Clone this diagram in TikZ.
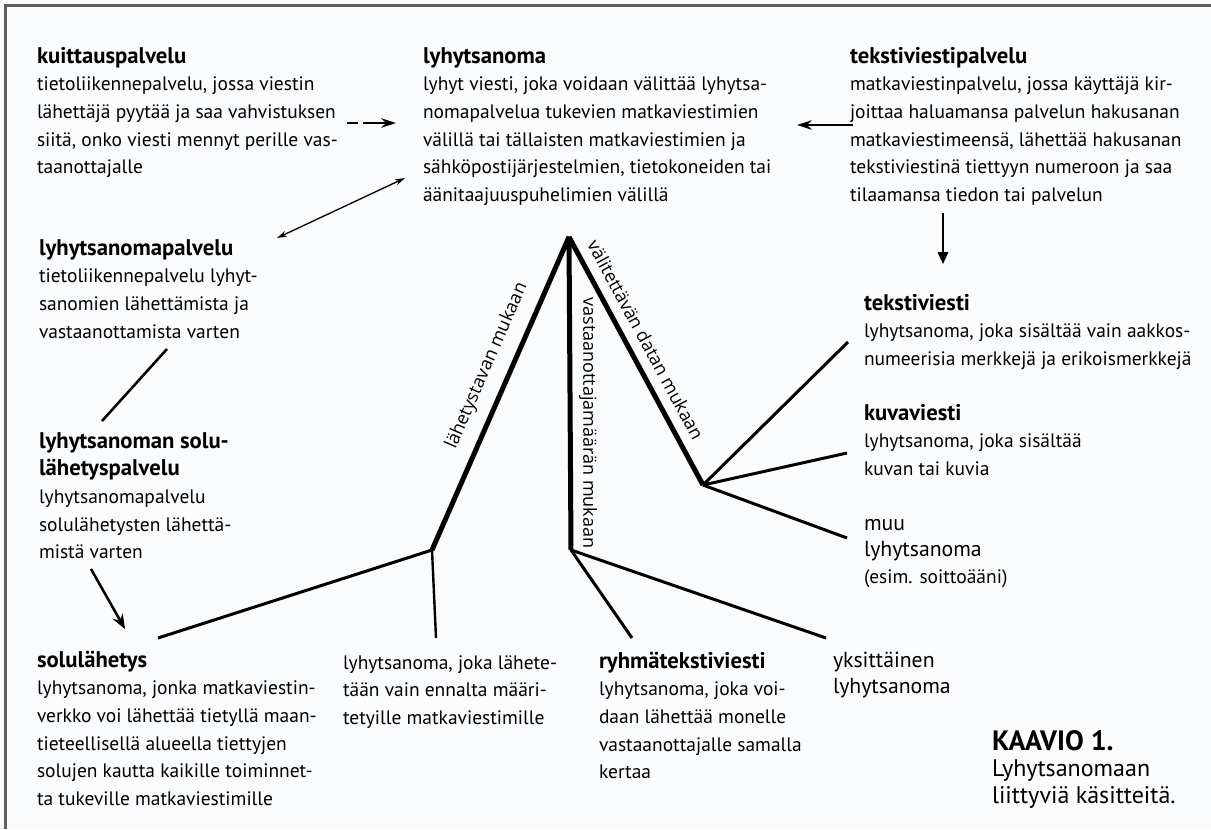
\documentclass[tikz,border=0pt]{standalone}
\usepackage{fontspec}
\setmainfont{PT Sans}
\newfontfamily\lblfont{Open Sans}
\usetikzlibrary{arrows.meta}
\definecolor{bgc}{RGB}{250,251,253}
\definecolor{framec}{RGB}{95,95,95}
\newcommand\Blk[2][20.8pt]{\vtop{\baselineskip=#1\relax\lineskip=0pt\lineskiplimit=-100pt\halign{##\hfil\cr#2\crcr}}}
\newcommand\Ttl[1]{{\fontsize{17}{20}\selectfont\bfseries #1}}
\begin{document}
\begin{tikzpicture}[x=0.75pt,y=-0.75pt,
  txt/.style={anchor=base west,inner sep=0pt,outer sep=0pt,font=\fontsize{14.6}{20.8}\selectfont},
  bigtxt/.style={txt,font=\fontsize{16.3}{20}\selectfont},
  captxt/.style={txt,font=\fontsize{18}{20}\selectfont},
  brlabel/.style={inner sep=0pt,font=\lblfont\fontsize{13.5}{16}\selectfont},
  branch/.style={line width=3.75pt,line join=bevel},
  leaf/.style={line width=2.25pt},
  thinleaf/.style={line width=1.8pt},
  conn/.style={line width=1.9pt},
  tip/.style={-{Stealth[length=11pt,width=7pt]}}
]
\fill[bgc] (0,0) rectangle (1211,829);
\useasboundingbox (0,0) rectangle (1211,829);
\draw[framec,line width=2.25pt] (5.5,829) -- (5.5,5.5) -- (1211,5.5);

% text blocks
\node[txt] (kuit) at (37,63) {\Blk{\Ttl{kuittauspalvelu}\cr
tietoliikennepalvelu, jossa viestin\cr
lähettäjä pyytää ja saa vahvistuksen\cr
siitä, onko viesti mennyt perille vas-\cr
taanottajalle}};

\node[txt] (lyhyt) at (423,63) {\Blk{\Ttl{lyhytsanoma}\cr
lyhyt viesti, joka voidaan välittää lyhytsa-\cr
nomapalvelua tukevien matkaviestimien\cr
välillä tai tällaisten matkaviestimien ja\cr
sähköpostijärjestelmien, tietokoneiden tai\cr
äänitaajuuspuhelimien välillä}};

\node[txt] (tvpalv) at (850,63) {\Blk{\Ttl{tekstiviestipalvelu}\cr
matkaviestinpalvelu, jossa käyttäjä kir-\cr
joittaa haluamansa palvelun hakusanan\cr
matkaviestimeensä, lähettää hakusanan\cr
tekstiviestinä tiettyyn numeroon ja saa\cr
tilaamansa tiedon tai palvelun}};

\node[txt] (lspalv) at (39,255) {\Blk{\Ttl{lyhytsanomapalvelu}\cr
tietoliikennepalvelu lyhyt-\cr
sanomien lähettämista ja\cr
vastaanottamista varten}};

\node[txt] (solupalv) at (39,448) {\Blk{\Ttl{lyhytsanoman solu-}\cr
\Ttl{lähetyspalvelu}\cr
lyhytsanomapalvelu\cr
solulähetysten lähettä-\cr
mistä varten}};

\node[txt] (solu) at (37,667) {\Blk{\Ttl{solulähetys}\cr
lyhytsanoma, jonka matkaviestin-\cr
verkko voi lähettää tietyllä maan-\cr
tieteellisellä alueella tiettyjen\cr
solujen kautta kaikille toiminnet-\cr
ta tukeville matkaviestimille}};

\node[txt] (ennalta) at (343,669) {\Blk{lyhytsanoma, joka lähete-\cr
tään vain ennalta määri-\cr
tetyille matkaviestimille}};

\node[txt] (ryhma) at (599,668) {\Blk{\Ttl{ryhmätekstiviesti}\cr
lyhytsanoma, joka voi-\cr
daan lähettää monelle\cr
vastaanottajalle samalla\cr
kertaa}};

\node[bigtxt] (yksi) at (833,667) {\Blk[20pt]{yksittäinen\cr lyhytsanoma}};

\node[txt] (teksti) at (864,310) {\Blk{\Ttl{tekstiviesti}\cr
lyhytsanoma, joka sisältää vain aakkos-\cr
numeerisia merkkejä ja erikoismerkkejä}};

\node[txt] (kuva) at (864,420) {\Blk{\Ttl{kuvaviesti}\cr
lyhytsanoma, joka sisältää\cr
kuvan tai kuvia}};

\node[bigtxt] (muu) at (864,530) {\Blk[19.9pt]{muu\cr lyhytsanoma\cr
{\fontsize{14.6}{16}\selectfont (esim. soittoääni)}}};

\node[captxt] (kaavio) at (992,750) {\Blk[19.9pt]{{\fontsize{21}{22}\selectfont\bfseries KAAVIO 1.}\cr
Lyhytsanomaan\cr liittyviä käsitteitä.}};

% tree
\coordinate (apex) at (569,237);
\coordinate (jL) at (432,550);
\coordinate (jM) at (571,550);
\coordinate (jR) at (703,485);
\coordinate (e1) at (158,638);
\coordinate (e2) at (436,638);
\coordinate (e3) at (632,638);
\coordinate (e4) at (826,638);
\coordinate (e5) at (848,342);
\coordinate (e6) at (847,453);
\coordinate (e7) at (847,538);

\draw[branch] (jL) -- (apex) -- (jM);
\draw[branch] (apex) -- (jR);
\draw[leaf] (jL) -- (e1);
\draw[thinleaf] (jL) -- (e2);
\draw[leaf] (jM) -- (e3);
\draw[leaf] (jM) -- (e4);
\draw[leaf] (jR) -- (e5);
\draw[leaf] (jR) -- (e6);
\draw[leaf] (jR) -- (e7);

\node[brlabel,rotate=66.4] (lblL) at (487,366) {lähetystavan mukaan};
\node[brlabel,rotate=-90] (lblM) at (588,423) {vastaanottajamäärän mukaan};
\node[brlabel,rotate=-61.6] (lblR) at (646,340) {välitettävän datan mukaan};

% other connectors
\coordinate (d1) at (347,123);
\coordinate (d2) at (396,123);
\coordinate (b1) at (277,238);
\coordinate (b2) at (405,178);
\coordinate (t1) at (853,125);
\coordinate (t2) at (797,125);
\coordinate (v1) at (943,213);
\coordinate (v2) at (943,264);
\coordinate (s1) at (167,349);
\coordinate (s2) at (102,421);
\coordinate (a1) at (91,569);
\coordinate (a2) at (125,629);

\draw[conn,tip,dash pattern=on 8.25pt off 4pt on 40pt off 0pt] (d1) -- (d2);
\draw[line width=1pt,{Stealth[length=7.5pt,width=4.5pt]}-{Stealth[length=7.5pt,width=4.5pt]}] (b1) -- (b2);
\draw[conn,tip] (t1) -- (t2);
\draw[line width=1.3pt,-{Triangle[length=9pt,width=8pt]}] (v1) -- (v2);
\draw[conn] (s1) -- (s2);
\draw[conn,-{Stealth[length=11pt,width=8.5pt]}] (a1) -- (a2);
\end{tikzpicture}
\end{document}
